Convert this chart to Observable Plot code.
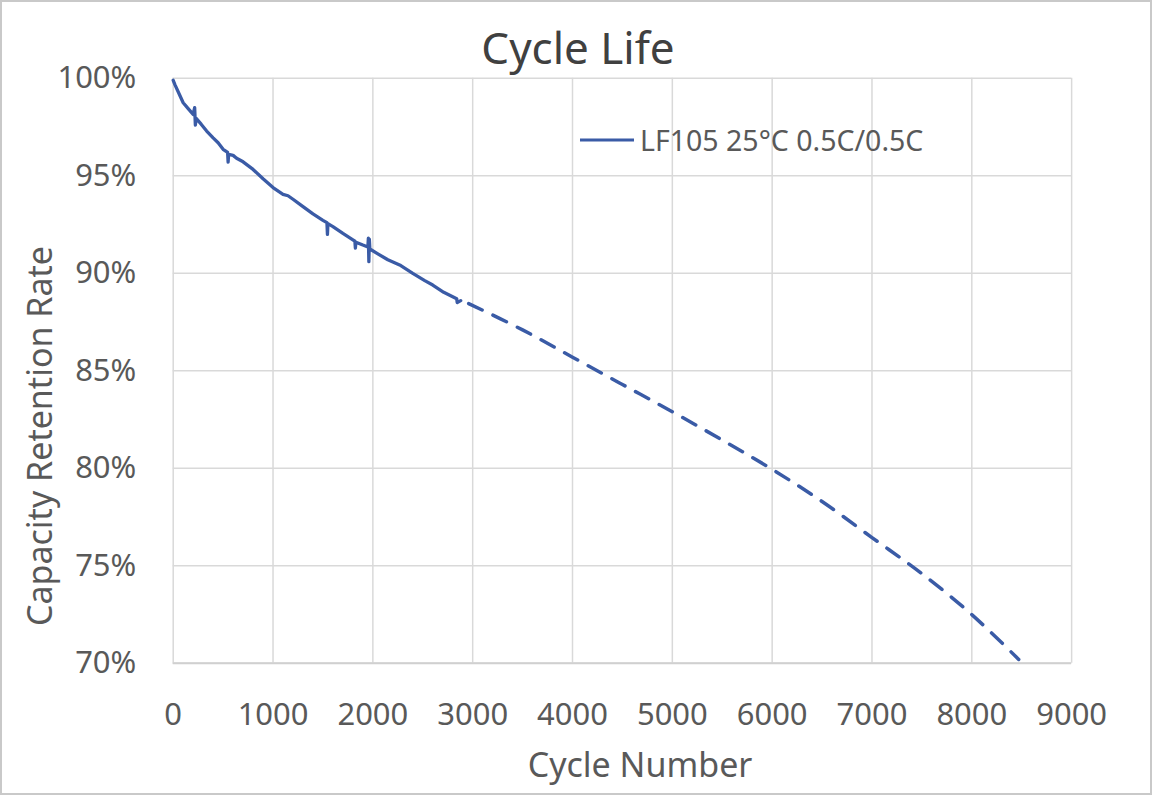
<!DOCTYPE html>
<html>
<head>
<meta charset="utf-8">
<script src="https://cdn.jsdelivr.net/npm/d3@7"></script>
<script src="https://cdn.jsdelivr.net/npm/@observablehq/plot@0.6"></script>
<style>
  html, body { margin: 0; padding: 0; background: #fff; }
  #wrap { position: relative; width: 1152px; height: 795px; box-sizing: border-box; border: 2px solid #c9c9c9; background: #fff; overflow: hidden; font-family: "Noto Sans", sans-serif; color: #595959; }
  #chart { position: absolute; left: -2px; top: -2px; }
  .t { position: absolute; white-space: nowrap; }
  #title { left: 576px; top: 45px; transform: translate(-50%, -50%); font-size: 44px; color: #404040; }
  #xtitle { left: 638px; top: 762px; transform: translate(-50%, -50%); font-size: 34px; }
  #ytitle { left: 37px; top: 434px; transform: translate(-50%, -50%) rotate(-90deg); font-size: 34px; }
  #legend { left: 578px; top: 138px; transform: translateY(-50%); font-size: 28.5px; display: flex; align-items: center; }
  #legend svg { margin-right: 6px; }
</style>
</head>
<body>
<div id="wrap">
  <div id="chart"></div>
  <div class="t" id="title"></div>
  <div class="t" id="xtitle"></div>
  <div class="t" id="ytitle"></div>
  <div class="t" id="legend"></div>
</div>
<script>
// ---- Data ----
const chartTitle = "Cycle Life";
const xTitle = "Cycle Number";
const yTitle = "Capacity Retention Rate";
const seriesName = "LF105 25°C 0.5C/0.5C";

const xTicks = [0, 1000, 2000, 3000, 4000, 5000, 6000, 7000, 8000, 9000];
const yTicks = [70, 75, 80, 85, 90, 95, 100];

// measured (solid) curve
const measuredCycles = [0, 17, 60, 100, 150, 200, 215, 222, 230, 280, 335, 400, 450, 500, 545, 550, 555, 600, 635, 700, 800, 900, 1000, 1100, 1150, 1200, 1290, 1400, 1500, 1540, 1545, 1550, 1600, 1700, 1800, 1820, 1825, 1830, 1900, 1950, 1955, 1960, 1965, 1970, 2050, 2150, 2280, 2400, 2520, 2600, 2710, 2800, 2840, 2845, 2880];
const measuredRetention = [99.9, 99.68, 99.2, 98.75, 98.45, 98.15, 98.5, 97.6, 97.95, 97.65, 97.3, 96.95, 96.7, 96.36, 96.2, 95.7, 96.1, 96.05, 95.9, 95.72, 95.33, 94.85, 94.4, 94.05, 93.98, 93.8, 93.46, 93.05, 92.72, 92.6, 92.0, 92.55, 92.4, 92.05, 91.72, 91.65, 91.3, 91.6, 91.45, 91.35, 91.8, 90.6, 91.75, 91.25, 91.0, 90.7, 90.4, 90.0, 89.63, 89.4, 89.03, 88.8, 88.7, 88.5, 88.6];

// projected (dashed) curve
const projectedCycles = [2960, 3500, 4000, 4500, 5000, 5500, 6000, 6500, 7000, 7500, 8000, 8470];
const projectedRetention = [88.45, 87.1, 85.7, 84.3, 82.9, 81.45, 79.95, 78.3, 76.45, 74.6, 72.5, 70.2];

const measured = measuredCycles.map((c, i) => ({cycle: c, retention: measuredRetention[i]}));
const projected = projectedCycles.map((c, i) => ({cycle: c, retention: projectedRetention[i]}));

const lineColor = "#3a5ba6";
const gridColor = "#d9d9d9";

const chart = Plot.plot({
  width: 1152,
  height: 795,
  marginLeft: 173,
  marginRight: 79,
  marginTop: 78,
  marginBottom: 131,
  style: {fontFamily: "Noto Sans, sans-serif", fontSize: "31px", color: "#595959", background: "transparent"},
  x: {domain: [0, 9000]},
  y: {domain: [70, 100]},
  marks: [
    Plot.gridX(xTicks, {stroke: gridColor, strokeOpacity: 1, strokeWidth: 1.5}),
    Plot.gridY(yTicks, {stroke: gridColor, strokeOpacity: 1, strokeWidth: 1.5}),
    Plot.ruleY([70], {stroke: "#d0d0d0", strokeWidth: 2}),
    Plot.axisX(xTicks, {tickSize: 0, tickPadding: 40, fontSize: 31, label: null, tickFormat: d => String(d)}),
    Plot.axisY(yTicks, {tickSize: 0, tickPadding: 37, fontSize: 31, label: null, tickFormat: d => d + "%"}),
    Plot.line(measured, {x: "cycle", y: "retention", stroke: lineColor, strokeWidth: 3.3, strokeLinejoin: "round"}),
    Plot.line(projected, {x: "cycle", y: "retention", stroke: lineColor, strokeWidth: 3.5, strokeDasharray: "15,12", curve: "catmull-rom"})
  ]
});
document.getElementById("chart").appendChild(chart);

document.getElementById("title").textContent = chartTitle;
document.getElementById("xtitle").textContent = xTitle;
document.getElementById("ytitle").textContent = yTitle;
const leg = document.getElementById("legend");
leg.innerHTML = `<svg width="54" height="6"><line x1="0" x2="54" y1="3" y2="3" stroke="${lineColor}" stroke-width="3"/></svg><span></span>`;
leg.querySelector("span").textContent = seriesName;
</script>
</body>
</html>
